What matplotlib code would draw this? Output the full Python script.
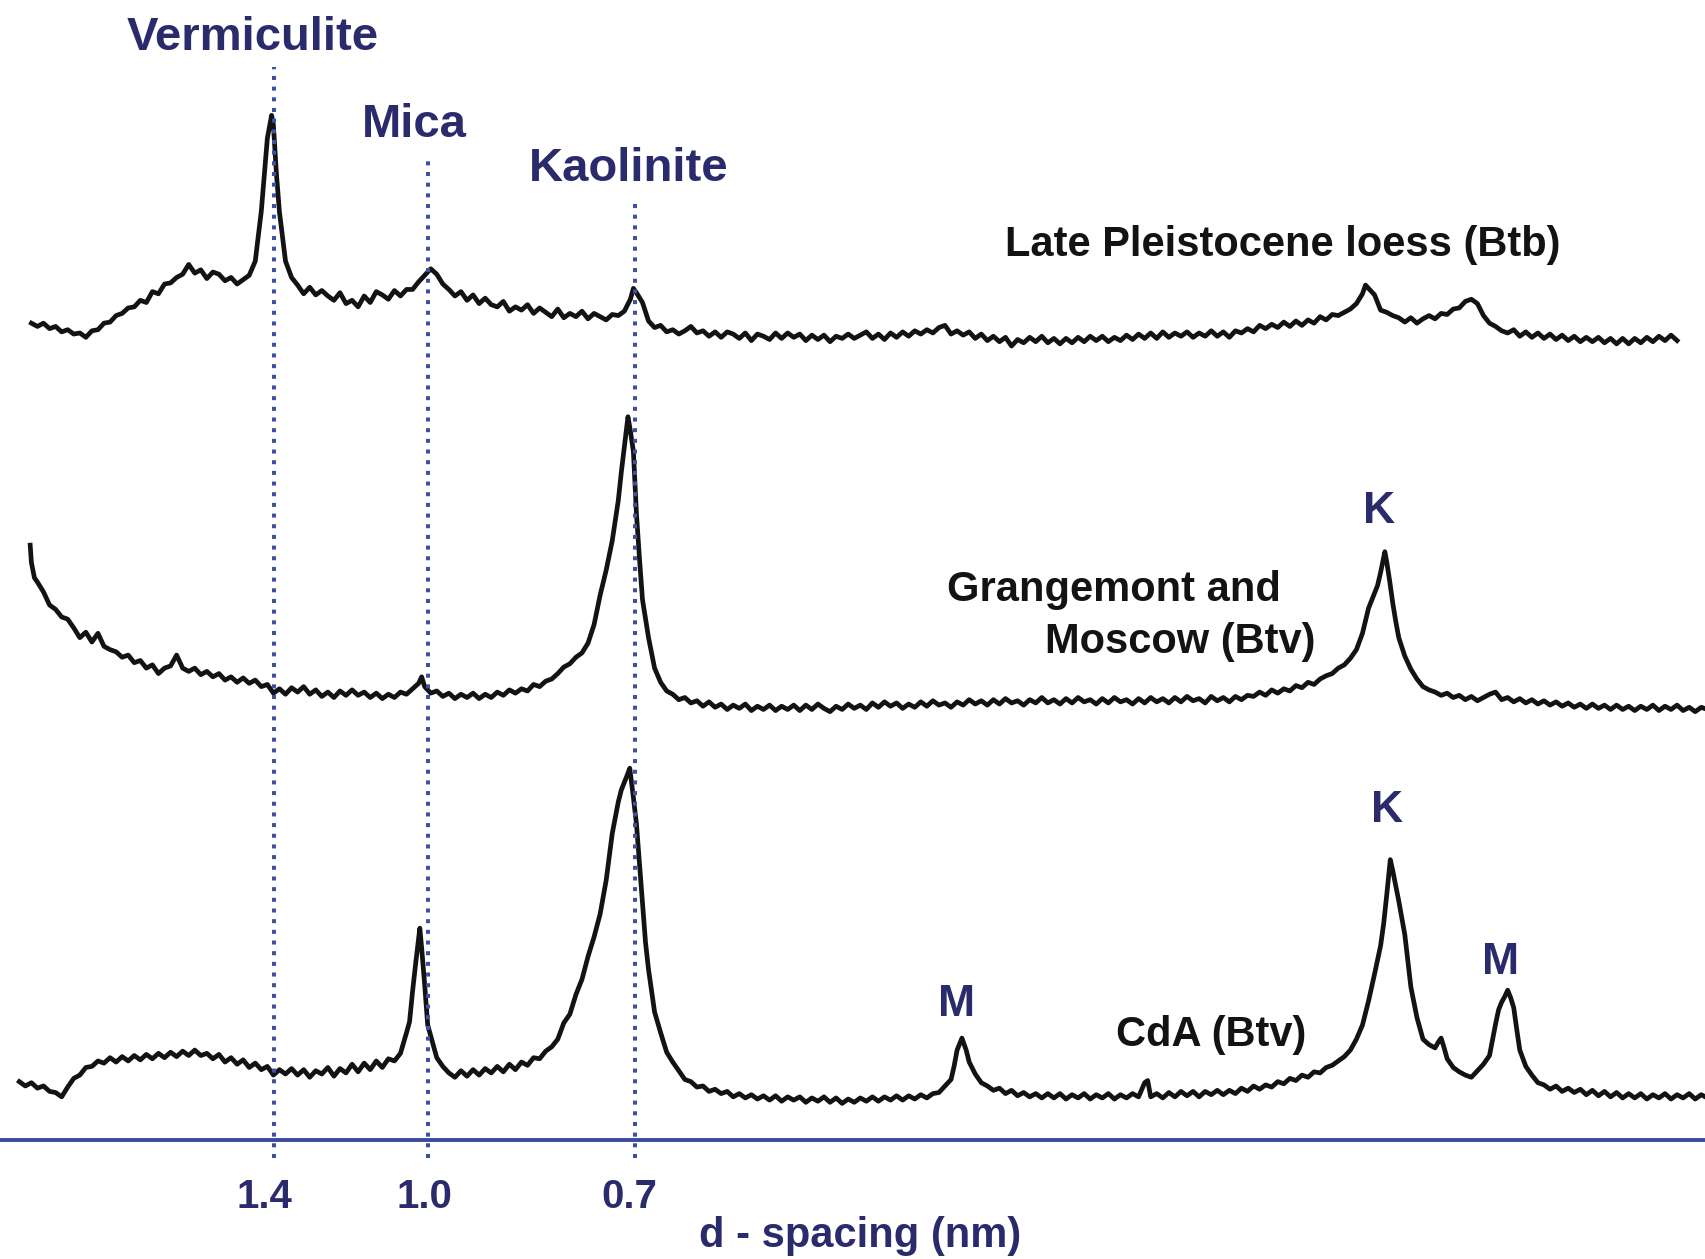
import matplotlib
matplotlib.use('Agg')
import matplotlib.pyplot as plt
from matplotlib.transforms import ScaledTranslation

plt.rcParams['font.family'] = ['Liberation Sans', 'DejaVu Sans']

# ---------------- data (2-theta in degrees, intensity in a.u., stacked) ----------------
top_scan = [
 (2.3,860),(2.4,857),(2.5,860),(2.6,855),(2.7,857),(2.8,852),(2.9,854),
 (3.0,850),(3.1,851),(3.2,847),(3.3,853),(3.4,854),(3.5,860),(3.6,861),(3.7,867),(3.8,869),(3.9,874),
 (4.0,875),(4.1,881),(4.2,879),(4.3,889),(4.4,887),(4.5,896),(4.6,897),(4.7,902),(4.8,905),(4.9,914),
 (5.0,906),(5.1,909),(5.2,901),(5.3,907),(5.4,905),(5.5,899),(5.6,902),(5.7,896),(5.8,900),(5.9,904),
 (6.0,917),(6.1,963),(6.2,1030),(6.27,1051),(6.3,1042),(6.35,997),(6.4,962),(6.5,917),(6.6,902),(6.7,895),(6.8,887),(6.9,893),
 (7.0,886),(7.1,890),(7.2,885),(7.3,881),(7.4,888),(7.5,878),(7.6,881),(7.7,875),(7.8,885),(7.9,879),
 (8.0,889),(8.1,886),(8.2,882),(8.3,890),(8.4,885),(8.5,891),(8.6,891),(8.7,898),(8.8,904),(8.9,910),
 (9.0,905),(9.1,896),(9.2,891),(9.3,885),(9.4,889),(9.5,881),(9.6,886),(9.7,878),(9.8,883),(9.9,877),
 (10.0,875),(10.1,880),(10.2,871),(10.3,875),(10.4,872),(10.5,877),(10.6,869),(10.7,874),(10.8,870),(10.9,866),
 (11.0,873),(11.1,865),(11.2,869),(11.3,866),(11.4,871),(11.5,864),(11.6,869),(11.7,866),(11.8,863),(11.9,868),
 (12.0,867),(12.1,871),(12.2,882),(12.25,892),(12.3,888),(12.4,879),(12.5,862),(12.6,856),(12.7,858),(12.8,852),(12.9,854),
 (13.0,850),(13.1,853),(13.2,857),(13.3,851),(13.4,853),(13.5,848),(13.6,852),(13.7,847),(13.8,852),(13.9,850),
 (14.0,846),(14.1,851),(14.2,844),(14.3,850),(14.4,848),(14.5,845),(14.6,851),(14.7,846),(14.8,851),(14.9,847),
 (15.0,850),(15.1,844),(15.2,849),(15.3,845),(15.4,849),(15.5,843),(15.6,848),(15.7,846),(15.8,850),(15.9,846),
 (16.0,849),(16.1,852),(16.2,846),(16.3,850),(16.4,845),(16.5,851),(16.6,847),(16.7,852),(16.8,848),(16.9,853),
 (17.0,850),(17.1,854),(17.2,851),(17.3,856),(17.4,858),(17.5,850),(17.6,853),(17.7,849),(17.8,852),(17.9,846),
 (18.0,850),(18.1,844),(18.2,848),(18.3,843),(18.4,847),(18.5,839),(18.6,845),(18.7,842),(18.8,847),(18.9,843),
 (19.0,848),(19.1,842),(19.2,846),(19.3,841),(19.4,846),(19.5,842),(19.6,847),(19.7,843),(19.8,848),(19.9,844),
 (20.0,848),(20.1,843),(20.2,847),(20.3,844),(20.4,849),(20.5,845),(20.6,850),(20.7,846),(20.8,851),(20.9,846),
 (21.0,852),(21.1,847),(21.2,851),(21.3,848),(21.4,852),(21.5,847),(21.6,851),(21.7,848),(21.8,853),(21.9,848),
 (22.0,852),(22.1,847),(22.2,853),(22.3,851),(22.4,855),(22.5,852),(22.6,858),(22.7,855),(22.8,859),(22.9,856),
 (23.0,861),(23.1,857),(23.2,862),(23.3,858),(23.4,863),(23.5,860),(23.6,866),(23.7,863),(23.8,868),(23.9,867),
 (24.0,870),(24.1,873),(24.2,878),(24.3,887),(24.35,895),(24.4,892),(24.5,886),(24.6,872),(24.7,870),(24.8,867),(24.9,865),
 (25.0,861),(25.1,865),(25.2,860),(25.3,864),(25.4,867),(25.5,864),(25.6,869),(25.7,868),(25.8,873),(25.9,874),
 (26.0,880),(26.1,882),(26.2,878),(26.3,867),(26.4,860),(26.5,857),(26.6,853),(26.7,851),(26.8,854),(26.9,848),
 (27.0,852),(27.1,847),(27.2,851),(27.3,846),(27.4,850),(27.5,845),(27.6,849),(27.7,844),(27.8,848),(27.9,843),
 (28.0,847),(28.1,843),(28.2,847),(28.3,842),(28.4,846),(28.5,841),(28.6,846),(28.7,841),(28.8,846),(28.9,842),
 (29.0,847),(29.1,843),(29.2,848),(29.3,844),(29.4,849),(29.5,844),
]

mid_scan = [
 (2.28,656),(2.3,640),(2.35,626),(2.4,622),(2.5,613),(2.6,601),(2.7,597),(2.8,590),(2.9,588),
 (3.0,580),(3.1,571),(3.2,576),(3.3,567),(3.4,575),(3.5,563),(3.6,560),(3.7,558),(3.8,553),(3.9,555),
 (4.0,548),(4.1,550),(4.2,543),(4.3,546),(4.4,538),(4.5,543),(4.6,545),(4.7,555),(4.8,543),(4.9,540),
 (5.0,543),(5.1,537),(5.2,540),(5.3,535),(5.4,538),(5.5,532),(5.6,535),(5.7,530),(5.8,534),(5.9,529),
 (6.0,532),(6.1,526),(6.2,528),(6.3,520),(6.4,524),(6.5,519),(6.6,525),(6.7,521),(6.8,526),(6.9,519),
 (7.0,523),(7.1,517),(7.2,521),(7.3,516),(7.4,522),(7.5,518),(7.6,523),(7.7,518),(7.8,521),(7.9,516),
 (8.0,520),(8.1,515),(8.2,519),(8.3,516),(8.4,521),(8.5,519),(8.6,524),(8.7,529),(8.75,535),(8.8,526),(8.9,520),
 (9.0,522),(9.1,517),(9.2,520),(9.3,515),(9.4,519),(9.5,516),(9.6,520),(9.7,515),(9.8,519),(9.9,516),
 (10.0,521),(10.1,518),(10.2,523),(10.3,520),(10.4,524),(10.5,522),(10.6,528),(10.7,526),(10.8,531),(10.9,533),
 (11.0,538),(11.1,544),(11.2,547),(11.3,553),(11.4,557),(11.5,566),(11.6,583),(11.7,610),(11.8,633),(11.9,660),
 (12.0,697),(12.05,723),(12.1,746),(12.16,774),(12.2,761),(12.25,742),(12.3,685),(12.35,644),(12.4,606),
 (12.5,571),(12.6,543),(12.7,530),(12.8,522),(12.9,519),
 (13.0,514),(13.1,516),(13.2,511),(13.3,513),(13.4,508),(13.5,512),(13.6,507),(13.7,510),(13.8,505),(13.9,509),
 (14.0,506),(14.1,510),(14.2,504),(14.3,508),(14.4,505),(14.5,509),(14.6,504),(14.7,508),(14.8,505),(14.9,509),
 (15.0,504),(15.1,509),(15.2,505),(15.3,510),(15.4,506),(15.5,503),(15.6,508),(15.7,505),(15.8,510),(15.9,506),
 (16.0,509),(16.1,505),(16.2,511),(16.3,507),(16.4,512),(16.5,508),(16.6,511),(16.7,506),(16.8,510),(16.9,507),
 (17.0,512),(17.1,508),(17.2,513),(17.3,509),(17.4,511),(17.5,507),(17.6,512),(17.7,509),(17.8,514),(17.9,510),
 (18.0,513),(18.1,509),(18.2,514),(18.3,510),(18.4,515),(18.5,511),(18.6,513),(18.7,509),(18.8,514),(18.9,511),
 (19.0,516),(19.1,511),(19.2,514),(19.3,510),(19.4,515),(19.5,511),(19.6,516),(19.7,512),(19.8,514),(19.9,510),
 (20.0,515),(20.1,511),(20.2,516),(20.3,512),(20.4,514),(20.5,510),(20.6,515),(20.7,511),(20.8,516),(20.9,512),
 (21.0,515),(21.1,511),(21.2,516),(21.3,512),(21.4,517),(21.5,513),(21.6,515),(21.7,511),(21.8,517),(21.9,513),
 (22.0,516),(22.1,512),(22.2,517),(22.3,514),(22.4,518),(22.5,517),(22.6,521),(22.7,518),(22.8,523),(22.9,520),
 (23.0,524),(23.1,522),(23.2,527),(23.3,525),(23.4,530),(23.5,528),(23.6,533),(23.7,536),(23.8,538),(23.9,543),
 (24.0,546),(24.1,552),(24.2,560),(24.3,575),(24.4,598),(24.5,612),(24.55,619),(24.6,631),(24.67,650),(24.7,641),
 (24.75,623),(24.8,603),(24.85,586),(24.9,571),
 (25.0,554),(25.1,542),(25.2,533),(25.3,526),(25.4,523),(25.5,521),(25.6,518),(25.7,520),(25.8,516),(25.9,518),
 (26.0,514),(26.1,517),(26.2,513),(26.3,516),(26.4,519),(26.5,521),(26.6,514),(26.7,516),(26.8,512),(26.9,515),
 (27.0,511),(27.1,514),(27.2,510),(27.3,513),(27.4,509),(27.5,512),(27.6,508),(27.7,511),(27.8,507),(27.9,510),
 (28.0,506),(28.1,510),(28.2,506),(28.3,509),(28.4,505),(28.5,509),(28.6,505),(28.7,508),(28.8,504),(28.9,508),
 (29.0,505),(29.1,509),(29.2,504),(29.3,508),(29.4,505),(29.5,509),(29.6,504),(29.7,507),(29.8,503),(29.9,507),(30.0,505),
]

bot_scan = [
 (2.1,163),(2.2,159),(2.3,162),(2.4,157),(2.5,159),(2.6,154),(2.7,153),(2.8,149),(2.9,158),
 (3.0,166),(3.1,169),(3.2,176),(3.3,177),(3.4,182),(3.5,180),(3.6,185),(3.7,181),(3.8,186),(3.9,182),
 (4.0,187),(4.1,183),(4.2,188),(4.3,184),(4.4,189),(4.5,185),(4.6,190),(4.7,186),(4.8,191),(4.9,187),
 (5.0,192),(5.1,187),(5.2,189),(5.3,184),(5.4,188),(5.5,181),(5.6,185),(5.7,179),(5.8,183),(5.9,176),
 (6.0,180),(6.1,174),(6.2,177),(6.3,169),(6.4,174),(6.5,170),(6.6,175),(6.7,169),(6.8,174),(6.9,167),
 (7.0,173),(7.1,170),(7.2,176),(7.3,168),(7.4,175),(7.5,171),(7.6,179),(7.7,172),(7.8,180),(7.9,174),
 (8.0,182),(8.1,176),(8.2,184),(8.3,182),(8.4,189),(8.5,208),(8.55,218),(8.6,246),(8.65,271),(8.7,294),
 (8.72,304),(8.75,286),(8.8,252),(8.85,215),(8.9,205),
 (9.0,185),(9.1,177),(9.2,171),(9.3,167),(9.4,173),(9.5,168),(9.6,174),(9.7,169),(9.8,175),(9.9,171),
 (10.0,177),(10.1,172),(10.2,179),(10.3,174),(10.4,181),(10.5,178),(10.6,185),(10.7,184),(10.8,191),(10.9,195),
 (11.0,202),(11.1,217),(11.2,225),(11.3,243),(11.4,257),(11.5,278),(11.6,296),(11.7,317),(11.8,348),(11.9,391),
 (12.0,420),(12.05,431),(12.1,438),(12.15,445),(12.19,451),(12.25,424),(12.3,400),(12.35,364),(12.4,327),
 (12.45,291),(12.5,266),(12.6,227),(12.7,208),(12.8,190),(12.9,181),
 (13.0,173),(13.1,165),(13.2,163),(13.3,158),(13.4,159),(13.5,154),(13.6,156),(13.7,152),(13.8,154),(13.9,149),
 (14.0,152),(14.1,148),(14.2,151),(14.3,147),(14.4,150),(14.5,146),(14.6,150),(14.7,145),(14.8,149),(14.9,146),
 (15.0,149),(15.1,144),(15.2,148),(15.3,145),(15.4,149),(15.5,144),(15.6,148),(15.7,143),(15.8,147),(15.9,144),
 (16.0,148),(16.1,145),(16.2,149),(16.3,145),(16.4,149),(16.5,146),(16.6,150),(16.7,146),(16.8,150),(16.9,147),
 (17.0,151),(17.1,148),(17.2,152),(17.3,153),(17.4,159),(17.5,165),(17.55,177),(17.6,192),(17.68,203),(17.75,192),
 (17.8,181),(17.9,170),
 (18.0,162),(18.1,159),(18.2,155),(18.3,157),(18.4,152),(18.5,155),(18.6,150),(18.7,153),(18.8,149),(18.9,152),
 (19.0,148),(19.1,152),(19.2,148),(19.3,152),(19.4,147),(19.5,151),(19.6,148),(19.7,152),(19.8,147),(19.9,151),
 (20.0,148),(20.1,152),(20.2,147),(20.3,151),(20.4,148),(20.5,152),(20.6,149),(20.7,162),(20.75,164),(20.8,149),(20.9,152),
 (21.0,148),(21.1,153),(21.2,149),(21.3,154),(21.4,150),(21.5,154),(21.6,149),(21.7,154),(21.8,151),(21.9,155),
 (22.0,151),(22.1,155),(22.2,152),(22.3,157),(22.4,154),(22.5,159),(22.6,156),(22.7,160),(22.8,158),(22.9,163),
 (23.0,161),(23.1,166),(23.2,164),(23.3,169),(23.4,167),(23.5,172),(23.6,171),(23.7,176),(23.8,178),(23.9,182),
 (24.0,186),(24.1,192),(24.2,202),(24.3,215),(24.4,237),(24.5,262),(24.6,288),(24.65,308),(24.7,334),(24.76,367),
 (24.8,357),(24.85,343),(24.9,329),
 (25.0,298),(25.1,250),(25.2,222),(25.3,202),(25.4,197),(25.5,194),(25.55,199),(25.6,203),(25.65,194),(25.7,184),
 (25.8,176),(25.9,172),
 (26.0,169),(26.1,167),(26.2,173),(26.3,179),(26.4,187),(26.5,216),(26.55,229),(26.6,236),(26.65,241),(26.7,247),
 (26.75,240),(26.8,231),(26.85,211),(26.9,192),
 (27.0,177),(27.1,169),(27.2,162),(27.3,160),(27.4,156),(27.5,159),(27.6,154),(27.7,157),(27.8,153),(27.9,156),
 (28.0,151),(28.1,155),(28.2,150),(28.3,154),(28.4,149),(28.5,153),(28.6,148),(28.7,152),(28.8,148),(28.9,152),
 (29.0,147),(29.1,151),(29.2,148),(29.3,152),(29.4,147),(29.5,151),(29.6,148),(29.7,152),(29.8,147),(29.9,151),(30.0,148),
]

# reference mineral lines
mineral_names = ['Vermiculite', 'Mica', 'Kaolinite']
mineral_2theta = [6.31, 8.85, 12.27]
mineral_line_top = [1095, 1015, 975]
mineral_label_x = [5.953, 8.633, 12.166]
mineral_label_y = [1111, 1031, 991]
line_bottom = 93

d_spacing_labels = ['1.4', '1.0', '0.7']
d_label_shift_px = [-9.6, -3.3, -5.7]

sample_names = ['Late Pleistocene loess (Btb)', 'Grangemont and', 'Moscow (Btv)', 'CdA (Btv)']
sample_x = [18.40, 17.426, 19.054, 20.224]
sample_y = [922, 605, 557, 196]

peak_letters = ['K', 'K', 'M', 'M']
peak_letter_x = [24.575, 24.71, 17.588, 26.58]
peak_letter_y = [676, 402, 223, 262]

axis_level = 109

# ---------------- drawing ----------------
NAVY = '#2a2b6c'
BLUE = '#3d50a2'
BLACK = '#131313'

fig = plt.figure(figsize=(17.06, 12.59), dpi=100)
ax = fig.add_axes([0, 0, 1, 1])
ax.set_xlim(1.781, 29.978)
ax.set_ylim(0, 1157)

for scan in (top_scan, mid_scan, bot_scan):
    xs, ys = zip(*scan)
    ax.plot(xs, ys, color=BLACK, lw=3.4, zorder=2)

ax.vlines(mineral_2theta, line_bottom, mineral_line_top, colors=BLUE,
          linestyles=(0, (1.0, 1.65)), lw=2.9, zorder=3)

for name, x, y in zip(mineral_names, mineral_label_x, mineral_label_y):
    ax.text(x, y, name, ha='center', va='baseline', fontsize=34,
            fontweight='bold', color=NAVY)

for name, x, y in zip(sample_names, sample_x, sample_y):
    ax.text(x, y, name, ha='left', va='baseline', fontsize=30,
            fontweight='bold', color=BLACK)

for name, x, y in zip(peak_letters, peak_letter_x, peak_letter_y):
    ax.text(x, y, name, ha='center', va='baseline', fontsize=32,
            fontweight='bold', color=NAVY)

for side in ('top', 'left', 'right'):
    ax.spines[side].set_visible(False)
ax.spines['bottom'].set_position(('data', axis_level))
ax.spines['bottom'].set_color('#3a4b9b')
ax.spines['bottom'].set_linewidth(2.8)
ax.set_yticks([])
ax.set_xticks(mineral_2theta)
ax.set_xticklabels(d_spacing_labels, fontsize=29, fontweight='bold', color=NAVY)
ax.tick_params(axis='x', length=0, pad=27)
for lab, dx in zip(ax.get_xticklabels(), d_label_shift_px):
    lab.set_transform(lab.get_transform() + ScaledTranslation(dx / 100.0, 0, fig.dpi_scale_trans))

ax.set_xlabel('d - spacing (nm)', fontsize=30, fontweight='bold', color=NAVY)
ax.xaxis.set_label_coords(0.5039, 11 / 1157)
ax.xaxis.label.set_verticalalignment('baseline')

fig.savefig('out.png', dpi=100)
